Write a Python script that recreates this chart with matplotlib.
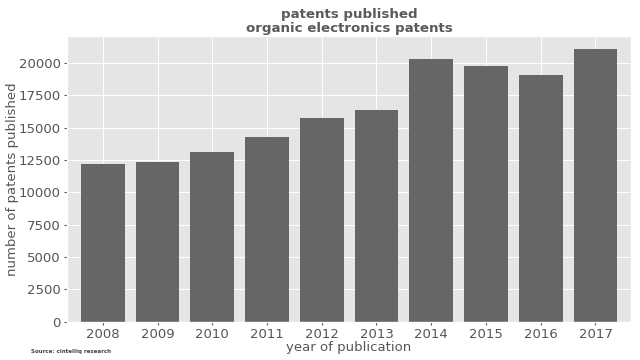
import matplotlib
matplotlib.use("Agg")
import matplotlib.pyplot as plt

years = ['2008', '2009', '2010', '2011', '2012', '2013', '2014', '2015', '2016', '2017']
patents = [12180, 12330, 13130, 14290, 15730, 16350, 20290, 19740, 19050, 21060]

plt.style.use('ggplot')
plt.rcParams['font.family'] = ['DejaVu Sans']

fig = plt.figure(figsize=(6.4, 3.6), dpi=100)
ax = fig.add_axes([0.105, 0.106, 0.881, 0.795])

pos = list(range(len(years)))
ax.bar(pos, patents, width=0.8, color='#666666')
ax.set_xlim(-0.65, len(years) - 0.35)
ax.set_xticks(pos)
ax.set_xticklabels(years)
ax.tick_params(axis='both', labelsize=9.5, colors='#555555', length=2.5, pad=2)
ax.grid(color='white', linewidth=0.7)

ax.set_xlabel("year of publication", fontsize=9.5, color='#555555', labelpad=0)
ax.set_ylabel("number of patents published", fontsize=9.5, color='#555555', labelpad=0)
ax.set_title("patents published\norganic electronics patents", fontsize=9.6,
             fontweight='bold', color='#5a5a5a', linespacing=1.15, pad=2.5)

fig.text(0.049, 0.02, "Source: cintelliq research", fontsize=4, fontweight='bold', color='#444444')

fig.savefig("out.png", dpi=100)
